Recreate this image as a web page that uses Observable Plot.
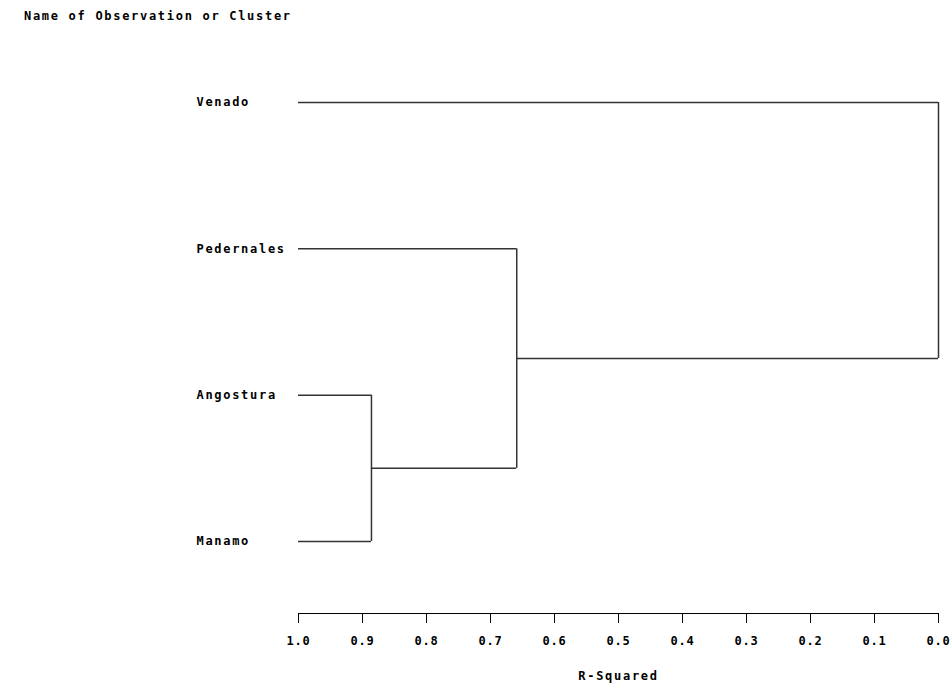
<!DOCTYPE html>
<html>
<head>
<meta charset="utf-8">
<script src="https://cdn.jsdelivr.net/npm/d3@7"></script>
<script src="https://cdn.jsdelivr.net/npm/@observablehq/plot@0.6"></script>
<style>
  html, body { margin: 0; padding: 0; background: #fff; }
  #title { position: absolute; left: 24px; top: 9px; font: bold 12px "DejaVu Sans Mono", monospace; letter-spacing: 1.7px; color: #000; white-space: nowrap; }
  #chart { position: absolute; left: 0; top: 30px; }
  #chart g[aria-label="x-axis tick label"] text { letter-spacing: 0.8px; }
</style>
</head>
<body>
<div id="title">Name of Observation or Cluster</div>
<div id="chart"></div>
<script>
// Leaves (top to bottom)
const leaves = ["Venado", "Pedernales", "Angostura", "Manamo"];
// Cluster joins (R-squared at join)
const clusterNames = ["CL3", "CL2", "CL1"];
const clusterLeft = ["Angostura", "Pedernales", "Venado"];
const clusterRight = ["Manamo", "CL3", "CL2"];
const clusterRsq = [0.886, 0.659, 0.0];
// Axis ticks
const tickValues = [1.0, 0.9, 0.8, 0.7, 0.6, 0.5, 0.4, 0.3, 0.2, 0.1, 0.0];
const axisTitle = ["R-Squared"];

// Build tree geometry
const ypos = new Map(leaves.map((d, i) => [d, i]));
const height = new Map(leaves.map(d => [d, 1.0]));
const parent = new Map();
clusterNames.forEach((c, i) => {
  ypos.set(c, (ypos.get(clusterLeft[i]) + ypos.get(clusterRight[i])) / 2);
  height.set(c, clusterRsq[i]);
  parent.set(clusterLeft[i], c);
  parent.set(clusterRight[i], c);
});
const horiz = [];
for (const [node, p] of parent) {
  horiz.push({y: ypos.get(node), x1: height.get(node), x2: height.get(p)});
}
const vert = clusterNames.map((c, i) => ({
  x: clusterRsq[i], y1: ypos.get(clusterLeft[i]), y2: ypos.get(clusterRight[i])
}));
const labels = leaves.map((d, i) => ({name: d, y: i, x: 1.0}));

const plot = Plot.plot({
  width: 950,
  height: 657,
  marginLeft: 298,
  marginRight: 12,
  marginTop: 20,
  marginBottom: 74,
  style: {fontFamily: "'DejaVu Sans Mono', monospace", fontWeight: "bold", fontSize: "12px", letterSpacing: "1.7px", color: "#000", background: "#fff"},
  x: {domain: [1, 0], range: [298, 938]},
  y: {domain: [0, 3], range: [72, 511], axis: null},
  marks: [
    Plot.ruleY(horiz, {y: "y", x1: "x1", x2: "x2", stroke: "#333", strokeWidth: 1.5}),
    Plot.ruleX(vert, {x: "x", y1: "y1", y2: "y2", stroke: "#333", strokeWidth: 1.5}),
    Plot.text(labels, {x: "x", y: "y", text: "name", textAnchor: "start", dx: -102, fill: "#000"}),
    Plot.frame({anchor: "bottom", stroke: "#000"}),
    Plot.axisX({ticks: tickValues, tickFormat: d => d.toFixed(1), tickSize: 10, tickPadding: 13, label: null, stroke: "#000"}),
    Plot.text(axisTitle, {frameAnchor: "bottom", text: d => d, dy: 66, fill: "#000"})
  ]
});
document.getElementById("chart").appendChild(plot);
</script>
</body>
</html>
